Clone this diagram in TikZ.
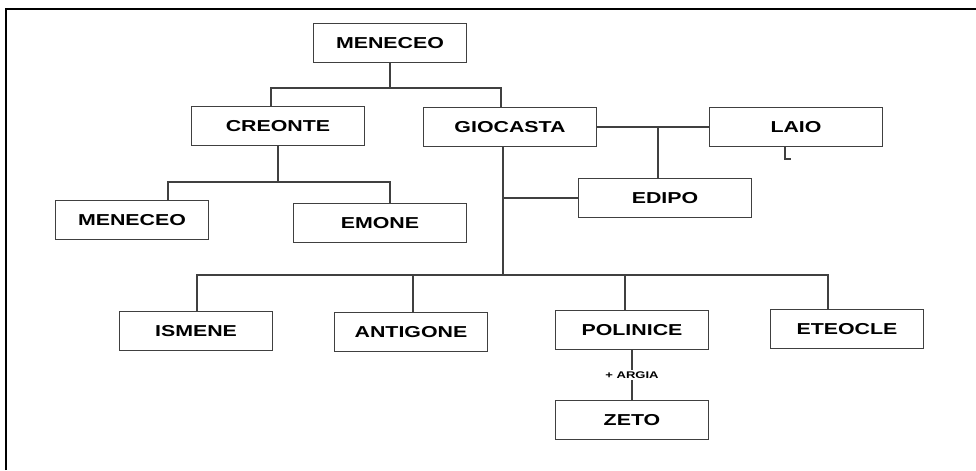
\documentclass[tikz,border=0pt]{standalone}
\usepackage{fontspec}
\setmainfont{Liberation Sans}[FakeStretch=1.35]
\usetikzlibrary{calc}

\begin{document}
\begin{tikzpicture}[x=0.02cm, y=-0.02cm,
    box/.style={draw=black!75, line width=0.9pt, minimum width=3.06cm, minimum height=0.78cm,
      inner sep=0pt, font=\bfseries\fontsize{9}{10}\selectfont},
    wbox/.style={box, minimum width=3.46cm},
    link/.style={draw=black!75, line width=0.9pt}]
                \useasboundingbox (0,0) rectangle (976,470);
                \draw[line width=1.6pt] (6,470) -- (6,9) -- (976,9);
                \node[box] (top) at (390,43) {MENECEO};
                \node[wbox] (cre) at (278,126) {CREONTE};
                \node[wbox] (gio) at (510,127) {GIOCASTA};
                \node[wbox] (laio) at (796,127) {LAIO};
                \node[wbox] (edi) at (665,198) {EDIPO};
                \node[box] (men) at (132,220) {MENECEO};
                \node[wbox] (emo) at (380,223) {EMONE};
                \node[box] (ism) at (196,331) {ISMENE};
                \node[box] (ant) at (411,332) {ANTIGONE};
                \node[box] (pol) at (632,330) {POLINICE};
                \node[box] (ete) at (847,329) {ETEOCLE};
                \node[box] (zet) at (632,420) {ZETO};
                \coordinate (j1) at (390,88);
                \coordinate (j2) at (279,182);
                \coordinate (j3) at (503,275);
                \coordinate (j4) at (658,127);
                \coordinate (sa) at ($(ant.north)+(2,0)$);
                \coordinate (sp) at ($(pol.north)+(-7,0)$);
                \draw[link] (top.south) -- (j1);
                \draw[link] ($(cre.north)+(-7,0)$) |- (j1) -| ($(gio.north)+(-9,0)$);
                \draw[link] (cre.south) |- (j2);
                \draw[link] ($(men.north)+(36,0)$) |- (j2) -| ($(emo.north)+(10,0)$);
                \draw[link] ($(gio.south)+(-7,0)$) -- (j3);
                \draw[link] (j3 |- edi.west) -- (edi.west);
                \draw[link] (gio.east) -- (laio.west);
                \draw[link] (j4) -- (j4 |- edi.north);
                \draw[link] ($(laio.south)+(-11,0)$) -- ++(0,12) -- ++(6,0);
                \draw[link] ($(ism.north)+(1,0)$) |- (j3) -| ($(ete.north)+(-19,0)$);
                \draw[link] (sa) -- (sa |- j3);
                \draw[link] (sp) -- (sp |- j3);
                \draw[link] (pol.south) -- node[fill=white, inner sep=1pt, font=\bfseries\fontsize{5.5}{6}\selectfont] {+ ARGIA} (zet.north);
            \end{tikzpicture}
\end{document}
